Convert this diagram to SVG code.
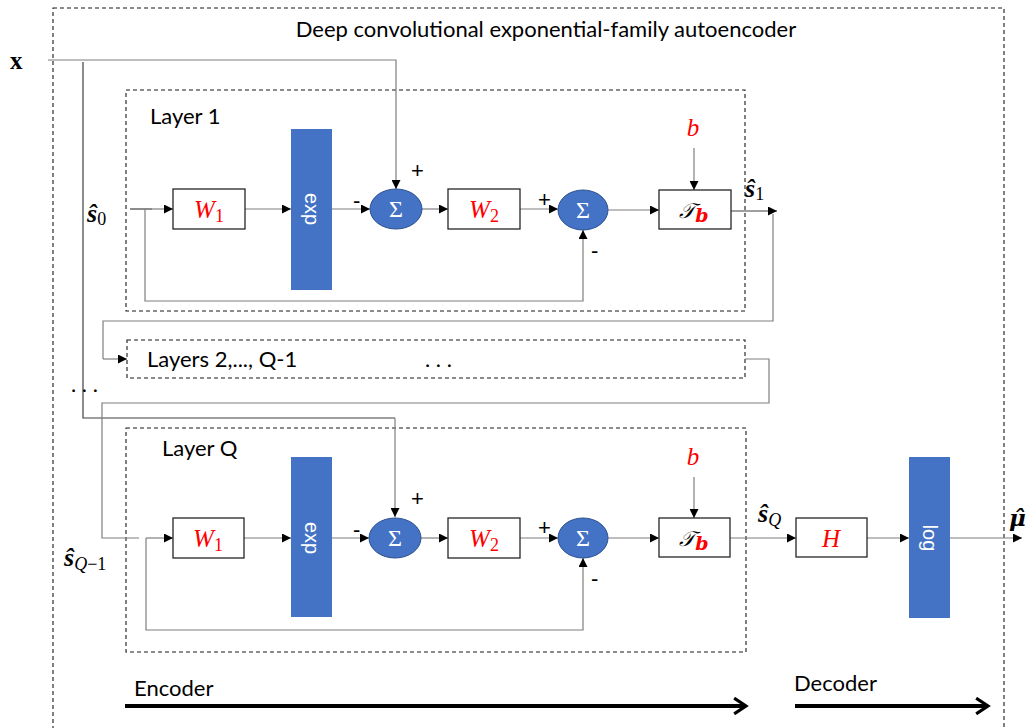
<svg xmlns="http://www.w3.org/2000/svg" width="1033" height="728" viewBox="0 0 1033 728">
<style>
.dash{fill:none;stroke:#1a1a1a;stroke-width:1.1;stroke-dasharray:4 3}
.box{fill:#fff;stroke:#262626;stroke-width:1.3}
.bar{fill:#4472C4}
.sum{fill:#4472C4;stroke:#2F528F;stroke-width:1}
.ln{fill:none;stroke:#7f7f7f;stroke-width:1.2}
.lnd{fill:none;stroke:#404040;stroke-width:1.2}
.arr{marker-end:url(#ah)}
.big{fill:none;stroke:#000;stroke-width:4;marker-end:url(#chev)}
.lbl{font-family:Lato,"Liberation Sans",sans-serif;font-size:22px;fill:#000}
.math{font-family:"Liberation Serif","DejaVu Serif",serif;font-style:italic;fill:#FF0000;font-size:25px}
.sig{font-family:"Liberation Serif","DejaVu Serif",serif;fill:#fff;font-size:24px;text-anchor:middle}
.sgn{font-family:"Liberation Sans",sans-serif;font-size:22px;fill:#000}
.var{font-family:"Liberation Serif","DejaVu Serif",serif;font-weight:bold;font-style:italic;font-size:26px;fill:#000}
.sub{font-family:"Liberation Serif","DejaVu Serif",serif;font-weight:normal;font-style:normal;font-size:18px}
.subi{font-family:"Liberation Serif","DejaVu Serif",serif;font-weight:normal;font-style:italic;font-size:18px}
.rot{font-family:"Liberation Sans",Arial,sans-serif;font-size:20px;fill:#fff;text-anchor:middle}
</style>
<defs>
<marker id="ah" viewBox="0 0 10 10" refX="10" refY="5" markerWidth="9" markerHeight="9" markerUnits="userSpaceOnUse" orient="auto">
<path d="M0,0 L10,5 L0,10 z" fill="#000"/>
</marker>
<marker id="chev" viewBox="0 0 12 14" refX="10" refY="7" markerWidth="4" markerHeight="4.6" orient="auto">
<path d="M1,1 L10,7 L1,13" fill="none" stroke="#000" stroke-width="2.4"/>
</marker>
</defs>

<g id="outer">
<rect class="dash" x="53" y="8" width="951" height="740"/>
<text class="lbl" x="546" y="37" text-anchor="middle" font-size="22.5">Deep convolutional exponential-family autoencoder</text>
</g>

<g id="input-x"><text x="10" y="69" font-family="'Liberation Serif',serif" font-weight="bold" font-size="25">x</text></g>

<g id="layer1">
<rect class="dash" x="126" y="90" width="619" height="221"/>
<text class="lbl" x="150" y="124">Layer 1</text>
</g>
<g id="layers-mid">
<rect class="dash" x="127" y="340" width="618" height="38"/>
<text class="lbl" x="147" y="367">Layers 2,..., Q-1</text>
<text class="lbl" x="425" y="367">. . .</text>
</g>
<g id="layerQ">
<rect class="dash" x="126" y="428" width="620" height="224"/>
<text class="lbl" x="162" y="456">Layer Q</text>
</g>

<g id="connectors">
<path class="ln arr" d="M48,60 H396 V189"/>
<path class="lnd" d="M83,62 V418 H395"/>
<path class="ln arr" d="M395,418 V517"/>
<path class="lnd" d="M130,209 H152"/>
<path class="ln arr" d="M152,209 H173"/>
<path class="ln arr" d="M145,209 V301 H583 V230"/>
<path class="ln arr" d="M245,209 H291"/>
<path class="ln arr" d="M332,209 H370"/>
<path class="ln arr" d="M422,209 H448"/>
<path class="ln arr" d="M520,209 H558"/>
<path class="ln arr" d="M608,210 H659"/>
<path class="ln arr" d="M694,148 V190"/>
<path class="lnd arr" d="M731,211 H777"/>
<path class="ln" d="M773,214 V321 H103 V359"/>
<path class="ln arr" d="M103,359 H127"/>
<path class="ln" d="M745,359 H769 V403 H102 V538 H139"/>
<path class="ln arr" d="M146,538 H173"/>
<path class="ln arr" d="M146,538 V630 H583 V558"/>
<path class="ln arr" d="M244,538 H291"/>
<path class="ln arr" d="M332,538 H369"/>
<path class="ln arr" d="M421,538 H448"/>
<path class="ln arr" d="M520,538 H558"/>
<path class="ln arr" d="M608,538 H659"/>
<path class="ln arr" d="M694,477 V518"/>
<path class="ln arr" d="M730,538 H796"/>
<path class="ln arr" d="M867,538 H909"/>
<path class="ln arr" d="M950,538 H1022"/>
<path class="big" d="M125,706 H746"/>
<path class="big" d="M795,706 H988"/>
</g>

<g id="dots"><text class="lbl" x="71" y="392">. . .</text></g>

<g id="s0"><text class="var" x="87" y="222">ŝ<tspan class="sub" dy="3">0</tspan></text></g>
<g id="W1a"><rect class="box" x="173" y="189" width="72" height="40"/><text class="math" x="209" y="218" text-anchor="middle">W<tspan class="sub" font-size="19" dy="4">1</tspan></text></g>
<g id="expa"><rect class="bar" x="291" y="129" width="41" height="161"/><text class="rot" transform="translate(311.5,209) rotate(90)" y="7">exp</text></g>
<g id="sum1a"><ellipse class="sum" cx="396" cy="209" rx="26" ry="20"/><text class="sig" x="396" y="217">Σ</text>
<text class="sgn" x="353" y="208">-</text><text class="sgn" x="411" y="178">+</text></g>
<g id="W2a"><rect class="box" x="448" y="189" width="72" height="40"/><text class="math" x="484" y="218" text-anchor="middle">W<tspan class="sub" font-size="19" dy="4">2</tspan></text></g>
<g id="sum2a"><ellipse class="sum" cx="583" cy="210" rx="25" ry="20"/><text class="sig" x="583" y="218">Σ</text>
<text class="sgn" x="538" y="207">+</text><text class="sgn" x="591" y="258">-</text></g>
<g id="Tba"><rect class="box" x="659" y="190" width="72" height="39"/><text x="694" y="218" text-anchor="middle" font-family="'DejaVu Serif','Liberation Serif',serif" font-size="21" font-style="italic">𝒯<tspan fill="#FF0000" font-weight="bold" font-size="19" dy="4">b</tspan></text></g>
<g id="ba"><text class="math" x="693" y="136" text-anchor="middle">b</text></g>
<g id="s1"><text class="var" x="745" y="197">ŝ<tspan class="sub" dy="3">1</tspan></text></g>

<g id="sQm1"><text class="var" x="64" y="566">ŝ<tspan class="subi" dy="4">Q</tspan><tspan class="sub">−1</tspan></text></g>
<g id="W1b"><rect class="box" x="173" y="518" width="71" height="40"/><text class="math" x="208" y="547" text-anchor="middle">W<tspan class="sub" font-size="19" dy="4">1</tspan></text></g>
<g id="expb"><rect class="bar" x="291" y="457" width="41" height="160"/><text class="rot" transform="translate(311.5,538) rotate(90)" y="7">exp</text></g>
<g id="sum1b"><ellipse class="sum" cx="395" cy="538" rx="26" ry="20"/><text class="sig" x="395" y="546">Σ</text>
<text class="sgn" x="353" y="537">-</text><text class="sgn" x="411" y="506">+</text></g>
<g id="W2b"><rect class="box" x="448" y="518" width="72" height="40"/><text class="math" x="484" y="547" text-anchor="middle">W<tspan class="sub" font-size="19" dy="4">2</tspan></text></g>
<g id="sum2b"><ellipse class="sum" cx="583" cy="538" rx="25" ry="20"/><text class="sig" x="583" y="546">Σ</text>
<text class="sgn" x="538" y="535">+</text><text class="sgn" x="591" y="586">-</text></g>
<g id="Tbb"><rect class="box" x="659" y="518" width="71" height="39"/><text x="694" y="546" text-anchor="middle" font-family="'DejaVu Serif','Liberation Serif',serif" font-size="21" font-style="italic">𝒯<tspan fill="#FF0000" font-weight="bold" font-size="19" dy="4">b</tspan></text></g>
<g id="bb"><text class="math" x="693" y="465" text-anchor="middle">b</text></g>
<g id="sQ"><text class="var" x="758" y="522">ŝ<tspan class="subi" dy="4">Q</tspan></text></g>
<g id="H"><rect class="box" x="796" y="518" width="71" height="39"/><text class="math" x="831" y="547" text-anchor="middle">H</text></g>
<g id="log"><rect class="bar" x="909" y="457" width="41" height="161"/><text class="rot" transform="translate(929.5,538) rotate(90)" y="7">log</text></g>
<g id="mu"><text x="1009" y="526" font-family="'DejaVu Serif',serif" font-weight="bold" font-style="italic" font-size="23">μ̂</text></g>

<g id="enc-dec">
<text class="lbl" x="134" y="696">Encoder</text>
<text class="lbl" x="794" y="691">Decoder</text>
</g>
</svg>
